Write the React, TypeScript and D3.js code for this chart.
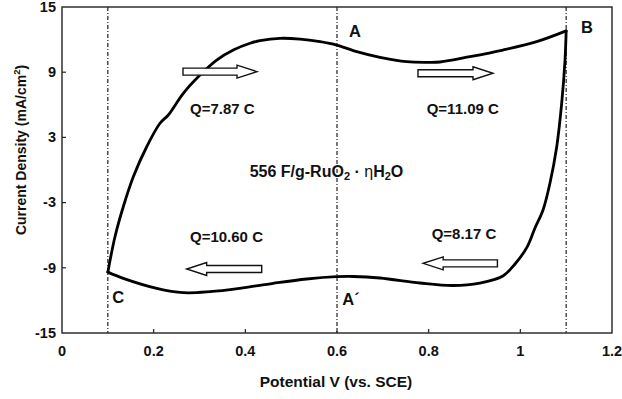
import React from 'react';
import * as d3 from 'd3';

// Axis ticks
const xTicks = [0, 0.2, 0.4, 0.6, 0.8, 1, 1.2];
const xTickLabels = ['0', '0.2', '0.4', '0.6', '0.8', '1', '1.2'];
const yTicks = [15, 9, 3, -3, -9, -15];
const yTickLabels = ['15', '9', '3', '-3', '-9', '-15'];

// Anodic (forward) scan C -> B
const anodicV = [0.1, 0.1156, 0.1337, 0.1556, 0.1848, 0.2138, 0.2319, 0.2647, 0.3011, 0.3375, 0.3738, 0.4102, 0.432, 0.4756, 0.5193, 0.5629, 0.5993, 0.643, 0.6938, 0.752, 0.7957, 0.8247, 0.8902, 0.962, 1.0357, 1.1];
const anodicI = [-9.4, -6.14, -3.38, -0.62, 2.14, 4.3, 5.06, 7.06, 8.74, 10.12, 11.04, 11.66, 11.9, 12.12, 12.05, 11.81, 11.5, 10.89, 10.37, 9.97, 9.91, 9.94, 10.43, 11.04, 11.81, 12.8];

// Cathodic (reverse) scan B -> C
const cathodicV = [1.1, 1.0975, 1.0903, 1.0794, 1.0647, 1.0495, 1.032, 1.0146, 0.9884, 0.962, 0.9116, 0.853, 0.7809, 0.6938, 0.6356, 0.5993, 0.534, 0.461, 0.388, 0.323, 0.2647, 0.2066, 0.1337, 0.1];
const cathodicI = [12.8, 10.12, 6.17, 2.14, -1.2, -3.68, -5.34, -7.1, -8.65, -9.75, -10.4, -10.63, -10.4, -9.94, -9.8, -9.82, -10.03, -10.43, -10.89, -11.2, -11.29, -10.89, -9.97, -9.4];

// Vertical dash-dot guides
const guideV = [0.1, 0.6, 1.1];

// Point labels
const pointLabels = ['A', 'B', 'C', 'A\u00B4'];
const pointLabelV = [0.639, 1.1455, 0.1228, 0.6305];
const pointLabelI = [12.6, 12.97, -11.87, -12.05];

// Charge labels (left-anchored)
const chargeLabels = ['Q=7.87 C', 'Q=11.09 C', 'Q=10.60 C', 'Q=8.17 C'];
const chargeV = [0.2793, 0.7957, 0.2793, 0.8066];
const chargeI = [5.52, 5.52, -6.26, -5.98];

// Scan direction arrows (tail -> tip)
const arrowTailV = [0.264, 0.7767, 0.4357, 0.95];
const arrowTipV = [0.4255, 0.9404, 0.272, 0.788];
const arrowI = [9.05, 8.9, -9.11, -8.59];

const W = 622;
const H = 399;
const x = d3.scaleLinear().domain([0, 1.2]).range([62, 612]);
const y = d3.scaleLinear().domain([-15, 15]).range([333, 7]);

const FONT = 'Arial, "Liberation Sans", Helvetica, sans-serif';

function arrowPath(x1: number, x2: number, cy: number) {
  const dir = x2 > x1 ? 1 : -1;
  const sh = 3.5;
  const hh = 6.5;
  const hl = 20;
  const hb = x2 - dir * hl;
  return `M${x1},${cy - sh}L${hb},${cy - sh}L${hb},${cy - hh}L${x2},${cy}L${hb},${cy + hh}L${hb},${cy + sh}L${x1},${cy + sh}Z`;
}

export default function App() {
  const mk = (vs: number[], is: number[]) =>
    d3
      .line<[number, number]>()
      .x((d) => x(d[0]))
      .y((d) => y(d[1]))
      .curve(d3.curveCatmullRom.alpha(0.5))(vs.map((v, i) => [v, is[i]] as [number, number])) || '';
  const anodicPath = mk(anodicV, anodicI);
  const cathodicPath = mk(cathodicV, cathodicI);
  const [x0, x1] = x.range();
  const [y0, y1] = y.range();

  return (
    <svg
      width={W}
      height={H}
      style={{ position: 'absolute', left: 0, top: 0, background: '#fff' }}
      fontFamily={FONT}
    >
      <rect x={0} y={0} width={W} height={H} fill="#fff" />
      {guideV.map((v, i) => (
        <line
          key={'g' + i}
          x1={x(v)}
          x2={x(v)}
          y1={y1}
          y2={y0}
          stroke="#222"
          strokeWidth={1.2}
          strokeDasharray="4,2,1,2"
        />
      ))}
      <rect x={x0} y={y1} width={x1 - x0} height={y0 - y1} fill="none" stroke="#222" strokeWidth={1.4} />
      {xTicks.slice(1, -1).map((t, i) => (
        <line key={'xt' + i} x1={x(t)} x2={x(t)} y1={y0} y2={y0 - 4} stroke="#222" strokeWidth={1.2} />
      ))}
      {yTicks.slice(1, -1).map((t, i) => (
        <line key={'yt' + i} x1={x0} x2={x0 + 4} y1={y(t)} y2={y(t)} stroke="#222" strokeWidth={1.2} />
      ))}
      {xTicks.map((t, i) => (
        <text key={'xl' + i} x={x(t)} y={352} textAnchor="middle" dominantBaseline="middle" fontSize={14.5} fontWeight="bold" fill="#111">
          {xTickLabels[i]}
        </text>
      ))}
      {yTicks.map((t, i) => (
        <text key={'yl' + i} x={56} y={y(t) + 1} textAnchor="end" dominantBaseline="middle" fontSize={14.5} fontWeight="bold" fill="#111">
          {yTickLabels[i]}
        </text>
      ))}
      <text x={336} y={383} textAnchor="middle" dominantBaseline="middle" fontSize={15.5} fontWeight="bold" fill="#111">
        Potential V (vs. SCE)
      </text>
      <text
        transform="translate(22,150) rotate(-90)"
        textAnchor="middle"
        dominantBaseline="middle"
        fontSize={14}
        fontWeight="bold"
        fill="#111"
      >
        Current Density (mA/cm<tspan dy={-5} fontSize={9.5}>2</tspan>
        <tspan dy={5}>)</tspan>
      </text>
      <path d={anodicPath} fill="none" stroke="#000" strokeWidth={2.8} strokeLinejoin="round" strokeLinecap="round" />
      <path d={cathodicPath} fill="none" stroke="#000" strokeWidth={2.8} strokeLinejoin="round" strokeLinecap="round" />
      {arrowI.map((c, i) => (
        <path key={'a' + i} d={arrowPath(x(arrowTailV[i]), x(arrowTipV[i]), y(c))} fill="#fff" stroke="#111" strokeWidth={1.4} strokeLinejoin="miter" />
      ))}
      {chargeLabels.map((s, i) => (
        <text key={'q' + i} x={x(chargeV[i])} y={y(chargeI[i])} dominantBaseline="middle" fontSize={15} fontWeight="bold" fill="#111">
          {s}
        </text>
      ))}
      {pointLabels.map((s, i) => (
        <text key={'p' + i} x={x(pointLabelV[i])} y={y(pointLabelI[i])} textAnchor="middle" dominantBaseline="middle" fontSize={16.5} fontWeight="bold" fill="#111">
          {s}
        </text>
      ))}
      <text x={x(0.577)} y={y(-0.28)} textAnchor="middle" dominantBaseline="middle" fontSize={16} fontWeight="bold" fill="#111">
        556 F/g-RuO<tspan dy={4} fontSize={11}>2</tspan>
        <tspan dy={-4}> · </tspan>
        <tspan fontWeight="normal">η</tspan>H<tspan dy={4} fontSize={11}>2</tspan>
        <tspan dy={-4}>O</tspan>
      </text>
    </svg>
  );
}
